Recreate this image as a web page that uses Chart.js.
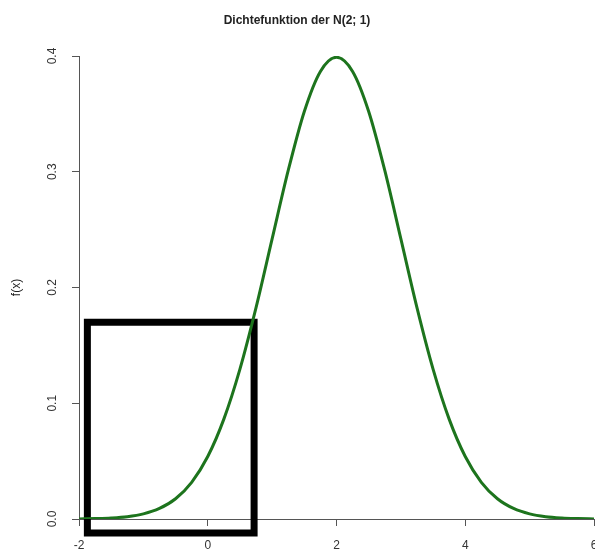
<!DOCTYPE html>
<html>
<head>
<meta charset="utf-8">
<script src="https://cdn.jsdelivr.net/npm/chart.js@4/dist/chart.umd.min.js"></script>
<style>
  html, body { margin: 0; padding: 0; background: #fff; }
  #wrap { width: 595px; height: 554px; }
</style>
</head>
<body>
<div id="wrap"><canvas id="chart"></canvas></div>
<script>
// Dichte der N(2; 1)
var xWerte = [-2, -1.75, -1.5, -1.25, -1, -0.75, -0.5, -0.25, 0, 0.25, 0.5, 0.75, 1, 1.25, 1.5, 1.75,
  2, 2.25, 2.5, 2.75, 3, 3.25, 3.5, 3.75, 4, 4.25, 4.5, 4.75, 5, 5.25, 5.5, 5.75, 6];
var fWerte = [0.0001, 0.0004, 0.0009, 0.002, 0.0044, 0.0091, 0.0175, 0.0317, 0.054, 0.0863, 0.1295, 0.1826, 0.242, 0.3011, 0.3521, 0.3867,
  0.3989, 0.3867, 0.3521, 0.3011, 0.242, 0.1826, 0.1295, 0.0863, 0.054, 0.0317, 0.0175, 0.0091, 0.0044, 0.002, 0.0009, 0.0004, 0.0001];

// Rechteck (Ecken), Start in der Mitte der Oberkante damit alle Ecken sauber sind
var rechteckX = [-0.6, 0.72, 0.72, -1.87, -1.87, -0.6];
var rechteckY = [0.17, 0.17, -0.012, -0.012, 0.17, 0.17];

var xTicks = [-2, 0, 2, 4, 6];
var yTicks = [0, 0.1, 0.2, 0.3, 0.4];

var kurve = xWerte.map(function (x, i) { return { x: x, y: fWerte[i] }; });
var rechteck = rechteckX.map(function (x, i) { return { x: x, y: rechteckY[i] }; });

var ctx = document.getElementById("chart").getContext("2d");
var myChart = new Chart(ctx, {
  type: "line",
  data: {
    datasets: [
      {
        data: kurve,
        borderColor: "#1d741d",
        borderWidth: 3,
        pointRadius: 0,
        cubicInterpolationMode: "monotone",
        fill: false,
      },
      {
        data: rechteck,
        borderColor: "#000",
        borderWidth: 7,
        borderJoinStyle: "miter",
        pointRadius: 0,
        tension: 0,
        fill: false,
        clip: false,
      },
    ],
  },
  options: {
    responsive: true,
    maintainAspectRatio: false,
    animation: false,
    layout: { padding: { left: 0, right: 1, top: 0, bottom: 0 } },
    plugins: {
      legend: { display: false },
      tooltip: { enabled: false },
      title: {
        display: true,
        text: "Dichtefunktion der N(2; 1)",
        color: "#222",
        font: { family: "Liberation Sans", size: 12, weight: "bold" },
        padding: { top: 13, bottom: 28.6 },
      },
    },
    scales: {
      x: {
        type: "linear",
        min: -2,
        max: 6,
        afterBuildTicks: function (s) { s.ticks = xTicks.map(function (v) { return { value: v }; }); },
        afterFit: function (s) { s.height = 35; s.paddingRight = 0; s.paddingLeft = 0; },
        grid: { drawOnChartArea: false, tickLength: 7, color: "#555" },
        border: { color: "#555", width: 1 },
        ticks: {
          color: "#333",
          font: { family: "Liberation Sans", size: 12 },
          padding: 12,
          maxRotation: 0,
          callback: function (v) { return String(v); },
        },
      },
      y: {
        min: 0,
        max: 0.4,
        afterBuildTicks: function (s) { s.ticks = yTicks.map(function (v) { return { value: v }; }); },
        afterFit: function (s) { s.width = 79; },
        grid: { drawOnChartArea: false, tickLength: 7, color: "#555" },
        border: { color: "#555", width: 1 },
        title: {
          display: true,
          text: "f(x)",
          color: "#222",
          font: { family: "Liberation Sans", size: 12 },
          padding: { top: 9, bottom: 0 },
        },
        ticks: {
          color: "#333",
          font: { family: "Liberation Sans", size: 12 },
          minRotation: 90,
          maxRotation: 90,
          crossAlign: "center",
          padding: 11,
          callback: function (v) { return v.toFixed(1); },
        },
      },
    },
  },
});
</script>
</body>
</html>
